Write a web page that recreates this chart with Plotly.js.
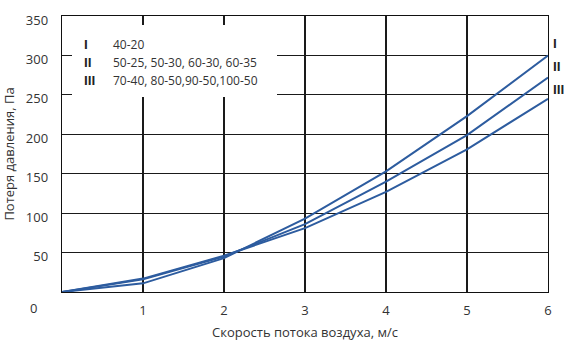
<!DOCTYPE html>
<html>
<head>
<meta charset="utf-8">
<script src="https://cdn.plot.ly/plotly-3.0.1.min.js"></script>
<style>html,body{margin:0;padding:0;background:#fff;}#chart{width:565px;height:341px;}</style>
</head>
<body>
<div id="chart"></div>
<script>
// Data
const velocity = [0, 1, 2, 3, 4, 5, 6];            // м/с
const seriesI   = [0, 11, 43, 93, 153, 223, 300];   // Па
const seriesII  = [0, 16, 45, 86, 140, 199, 272];
const seriesIII = [0, 17, 46, 81, 127, 181, 245];
const seriesNames = ['I', 'II', 'III'];
const legendSizes = ['40-20', '50-25, 50-30, 60-30, 60-35', '70-40, 80-50,90-50,100-50'];
const xTicks = [1, 2, 3, 4, 5, 6];
const yTicks = [50, 100, 150, 200, 250, 300, 350];

const lineColor = '#2d5c9f';
const font = 'Open Sans, Noto Sans, sans-serif';
const textColor = '#333';

const allSeries = [seriesI, seriesII, seriesIII];
const traces = allSeries.map((s, i) => ({
  x: velocity, y: s, type: 'scatter', mode: 'lines', name: seriesNames[i],
  line: {color: lineColor, width: 2}, hoverinfo: 'skip'
}));

const annotations = [];
// legend box rows
const rowY = [44, 63, 81];
legendSizes.forEach((t, i) => {
  annotations.push({xref: 'paper', yref: 'paper', x: (82 - 62) / 486, y: 1 - (rowY[i] - 16) / 276,
    xanchor: 'left', yanchor: 'middle', showarrow: false, text: '<b>' + seriesNames[i] + '</b>',
    font: {family: 'Liberation Sans Narrow, Roboto, sans-serif', size: 13, color: '#222'}});
  annotations.push({xref: 'paper', yref: 'paper', x: (111 - 62) / 486, y: 1 - (rowY[i] - 16) / 276,
    xanchor: 'left', yanchor: 'middle', showarrow: false, text: t,
    font: {family: font, size: 12, color: textColor}});
});
// right side labels
const rightY = [43, 67, 89];
seriesNames.forEach((n, i) => {
  annotations.push({xref: 'paper', yref: 'paper', x: 1, xshift: 3, y: 1 - (rightY[i] - 16) / 276,
    xanchor: 'left', yanchor: 'middle', showarrow: false, text: '<b>' + n + '</b>',
    font: {family: 'Liberation Sans Narrow, Roboto, sans-serif', size: 13, color: '#222'}});
});
// origin label
annotations.push({xref: 'x', yref: 'y', x: 0, y: 0, xshift: -29, yshift: -16, showarrow: false,
  text: '0', font: {family: font, size: 13, color: textColor}});

const shapes = [
  {type: 'rect', xref: 'paper', yref: 'paper', x0: (72 - 62) / 486, x1: (277 - 62) / 486,
   y0: 1 - (97 - 16) / 276, y1: 1 - (25 - 16) / 276, fillcolor: '#fff', line: {width: 0}, layer: 'above'},
  {type: 'line', xref: 'x', yref: 'y', x0: 0, x1: 0, ysizemode: 'pixel', yanchor: 0, y0: 0, y1: -6,
   line: {color: '#111', width: 1.3}},
  {type: 'line', xref: 'x', yref: 'y', y0: 0, y1: 0, xsizemode: 'pixel', xanchor: 0, x0: 0, x1: -7,
   line: {color: '#111', width: 1.3}}
];

const layout = {
  width: 565, height: 341,
  margin: {l: 62, r: 17, t: 16, b: 49},
  paper_bgcolor: '#fff', plot_bgcolor: '#fff',
  showlegend: false,
  font: {family: font, color: textColor, size: 13},
  xaxis: {
    range: [0, 6], tickvals: xTicks, ticktext: xTicks.map(String), ticks: '',
    showgrid: true, gridcolor: '#1a1a1a', gridwidth: 1.2,
    showline: true, linecolor: '#111', linewidth: 1.3, mirror: true, zeroline: false,
    ticklabelstandoff: 6,
    tickfont: {family: font, size: 13, color: textColor},
    title: {text: 'Скорость потока воздуха, м/с', standoff: 12, font: {family: font, size: 13, color: textColor}}
  },
  yaxis: {
    range: [0, 350], tickvals: yTicks, ticktext: yTicks.map(String), ticks: '',
    showgrid: true, gridcolor: '#1a1a1a', gridwidth: 1.2,
    showline: true, linecolor: '#111', linewidth: 1.3, mirror: true, zeroline: false,
    ticklabelstandoff: 10, ticklabelshift: 4,
    tickfont: {family: font, size: 13, color: textColor},
    title: {text: 'Потеря давления, Па', standoff: 10, font: {family: font, size: 13, color: textColor}}
  },
  shapes: shapes,
  annotations: annotations
};

Plotly.newPlot('chart', traces, layout, {staticPlot: true, displayModeBar: false});
</script>
</body>
</html>
